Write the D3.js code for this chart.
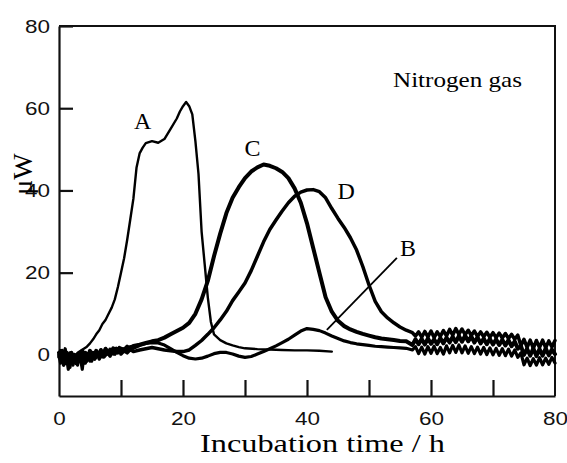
<!DOCTYPE html>
<html>
<head>
<meta charset="utf-8">
<script src="https://cdn.jsdelivr.net/npm/d3@7"></script>
<style>
  body { margin: 0; background: #fff; }
  svg { display: block; }
</style>
</head>
<body>
<svg id="chart"></svg>
<script>
// ---- data (time in h, heat flow in uW) ----

// curve A, thin line, ends at 44 h
let tA = [0, 0.5, 1, 1.5, 2, 2.5, 3, 3.5, 4, 4.5, 5, 5.5, 6, 6.5, 7, 7.5, 8, 8.5, 9, 9.5,
  10, 10.5, 11, 11.5, 12, 12.5, 13, 13.5, 14, 15, 16, 17, 18, 19, 19.5, 20, 20.5, 21, 21.5, 22,
  22.5, 23, 23.5, 24, 24.5, 25, 26, 27, 28, 29, 30, 32, 34, 36, 38, 40, 42, 44];
let vA = [0, -1.5, 0.5, -1, 0, -0.5, 0.5, 1, 1.5, 2, 2.8, 3.8, 5, 6, 7.5, 8.5, 10, 11.5, 13.5, 16.5,
  20, 23.5, 28, 33, 38, 45.5, 49, 50.4, 51.5, 52, 51.6, 52.5, 55, 57.5, 59.2, 60.5, 61.5, 60.5, 58.5, 52,
  44, 30, 22, 14, 8, 5, 3.6, 2.8, 2.3, 1.9, 1.6, 1.4, 1.3, 1.2, 1.1, 1.1, 1, 0.8];

// sampling times shared by B, C and D
let tS = [0, 0.25, 0.5, 0.75, 1, 1.25, 1.5, 1.75, 2, 2.25, 2.5, 2.75, 3, 3.25, 3.5, 3.75, 4, 4.25, 4.5, 4.75,
  5, 5.25, 5.5, 5.75, 6, 6.25, 6.5, 6.75, 7, 7.25, 7.5, 7.75, 8, 8.25, 8.5, 8.75, 9, 9.25, 9.5, 9.75, 10,
  10.5, 11, 11.5, 12,
  13, 14, 15, 16, 17, 18, 19, 20, 21, 22, 23, 24, 25, 26, 27, 28, 29, 30, 31, 32,
  33, 34, 35, 36, 37, 38, 39, 40, 41, 42, 43, 44, 45, 46, 47, 48, 49, 50, 51, 52, 53, 54, 55, 56,
  57, 57.5, 58, 58.5, 59, 59.5, 60, 60.5, 61, 61.5, 62, 62.5, 63, 63.5, 64, 64.5, 65, 65.5, 66, 66.5,
  67, 67.5, 68, 68.5, 69, 69.5, 70, 70.5, 71, 71.5, 72, 72.5, 73, 73.5, 74, 74.5, 75, 75.5, 76, 76.5,
  77, 77.5, 78, 78.5, 79, 79.5, 80];

// curve B, small bump near 41 h
let vB = [0, -2, 1, -1.5, 1.5, -1, -3.5, 0.5, -1, -2.5, 0, -1.5, -2.5, 0.5, -1, -3.5, -0.5, -2, -1, 0,
  -1.5, -0.5, 0.5, -1, 0, 0.5, -0.5, 0.8, -0.5, 1, 0, 1.2, 0.3, 0.8, 1.2, 0.2, 1.2, 0.5, 1.4, 0.6, 1.2,
  1.5, 1, 2, 1.6,
  2.3, 2.8, 3, 2.9, 2.4, 1.5, 0.6, -0.2, -0.8, -1, -0.8, -0.3, 0.3, 0.6, 0.6, 0.2, -0.3, -0.6, -0.4, 0.2,
  0.8, 1.5, 2.2, 3, 3.8, 4.8, 5.8, 6.4, 6.2, 5.9, 5.3, 4.6, 4, 3.4, 3, 2.7, 2.5, 2.3, 2.1, 2, 1.9, 1.8, 1.7, 1.6,
  1.2, 2, 0.3, 1.9, 0.2, 2, 0.4, 2.1, 0.3, 1.8, 0.2, 2.2, 0.5, 2.3, 0.6, 2.4, 0.5, 2.2, 0.4, 2,
  0.3, 1.9, 0.2, 1.8, 0.1, 1.7, 0, 1.6, -0.1, 1.5, -0.2, 1.4, -0.3, 1.2, -0.6, 0.5, -2.4, -0.8, -2.6, -0.9,
  -2.5, -0.7, -2.4, -0.8, -2.3, -0.6, -2];

// curve C, peak near 33 h
let vC = [0.5, -1, 1, -0.5, -2, 0.5, 0, -1.5, 0.5, -1, 0, -2, 0, -0.5, -1.5, 1, -0.5, 0.5, -1, 0,
  1, -0.5, 0.5, 0, 1, 0.3, -0.3, 1.2, 0.5, 0, 1.5, 0.8, 0.2, 1.3, 0.6, 1.6, 1, 1.5, 0.8, 1.7, 1.5,
  1.2, 2, 1.6, 2.2,
  2.5, 2.9, 3.3, 3.6, 4.2, 5, 5.8, 6.6, 7.8, 10, 13.5, 18, 24, 29.5, 34.5, 38.2, 40.8, 43, 44.6, 45.6,
  46.3, 46, 45.4, 44.5, 43, 40.5, 37, 32, 26, 20, 14, 10.5, 8.3, 7, 6.2, 5.6, 5.1, 4.7, 4.3, 4, 3.8, 3.6, 3.4, 3.3,
  2.4, 3.8, 2.6, 3.9, 2.5, 4, 2.7, 3.8, 2.6, 4.1, 2.8, 4.2, 3, 4.4, 3.1, 4.6, 3.2, 4.7, 3.3, 4.5,
  3, 4.3, 2.8, 4, 2.6, 3.9, 2.5, 3.8, 2.4, 3.7, 2.3, 3.6, 2.1, 3.3, 1.5, 2.2, 0, 1.5, -0.2, 1.6,
  -0.3, 1.4, -0.2, 1.6, -0.1, 1.3, 0.2];

// curve D, peak near 41 h
let vD = [-0.5, 1, -1, -2.5, 0.5, -1.5, -1, -3, 0, -2, -1.5, -0.5, -2, -1, 0, -2.5, -1, 0.5, -1.5, -1,
  0, -1.5, 0.5, -1, -0.5, 0.5, -1, 0, 0.5, -0.5, 0, 1, 0.2, -0.3, 1, 0.4, 0.2, 1, 0.5, 1.3, 0.2,
  1, 0.5, 1.3, 0.8,
  1.2, 1.5, 1.8, 1.5, 1.2, 1, 0.8, 0.8, 1.2, 2.3, 3.5, 5, 6.6, 8.5, 10.6, 13.2, 15.3, 17.5, 20.5, 24,
  27.5, 30.5, 32.8, 35, 37, 38.6, 39.6, 40.1, 40.2, 39.7, 38.2, 35.6, 33.2, 31, 28.5, 25.5, 21.5, 17, 13, 10.5, 9, 7.8, 6.8, 6,
  5.4, 4.6, 5.6, 4.3, 5.7, 4.4, 5.8, 4.2, 5.6, 4.5, 5.9, 4.6, 6.2, 4.8, 6.4, 5, 6.3, 4.9, 6, 4.7,
  5.8, 4.5, 5.6, 4.4, 5.5, 4.3, 5.4, 4.2, 5.3, 4.1, 5.2, 4, 5, 3.8, 4.8, 2.2, 3.8, 1.8, 3.6, 1.6,
  3.5, 1.8, 3.6, 1.7, 3.4, 1.9, 3.5];

// tick values
let yTicks = [0, 20, 40, 60, 80];
let xMinorTicks = [10, 20, 30, 40, 50, 60, 70];
let xLabels = [0, 20, 40, 60, 80];

// curve letters placed in data units, plus the leader line for B
let letterNames = ["A", "B", "C", "D"];
let letterT = [13.5, 56.3, 31.2, 46.3];
let letterV = [55, 24, 48.5, 38];
let leaderT = [54.5, 43.2];
let leaderV = [23.6, 6.1];

// ---- layout ----
let width = 567,
  height = 463,
  plotLeft = 59,
  plotRight = 555,
  plotTop = 26,
  plotBottom = 396;

let serif = "'Liberation Serif', 'Times New Roman', serif";
let sans = "'Liberation Sans', Arial, sans-serif";

let xScale = d3.scaleLinear().domain([0, 80]).range([plotLeft, plotRight]);
let yScale = d3.scaleLinear().domain([-10, 80]).range([plotBottom, plotTop]);

let svg = d3.select("#chart")
  .attr("width", width)
  .attr("height", height)
  .style("background", "#fff");

// frame top + right
svg.append("path")
  .attr("d", `M${plotLeft},${plotTop}H${plotRight}V${plotBottom}`)
  .attr("fill", "none")
  .attr("stroke", "#111")
  .attr("stroke-width", 2);

// y axis, ticks point inward
let yAxis = svg.append("g")
  .attr("transform", `translate(${plotLeft},0)`)
  .call(d3.axisLeft(yScale).tickValues(yTicks).tickSize(-14).tickSizeOuter(0).tickPadding(9));

// x axis ticks only (10..70)
let xAxis = svg.append("g")
  .attr("transform", `translate(0,${plotBottom})`)
  .call(d3.axisBottom(xScale).tickValues(xMinorTicks).tickSize(-16).tickSizeOuter(0).tickFormat(""));

// x labels only
let xLab = svg.append("g")
  .attr("transform", `translate(0,${plotBottom})`)
  .call(d3.axisBottom(xScale).tickValues(xLabels).tickSize(0).tickPadding(16));
xLab.select(".domain").remove();

[yAxis, xAxis].forEach(g => {
  g.select(".domain").attr("stroke", "#111").attr("stroke-width", 2.2);
  g.selectAll(".tick line").attr("stroke", "#111").attr("stroke-width", 2.2);
});

[yAxis, xLab].forEach(g => {
  g.attr("font-family", sans).attr("font-size", 19);
  g.selectAll(".tick text")
    .attr("fill", "#111")
    .attr("textLength", d => String(d).length * 12.5)
    .attr("lengthAdjust", "spacingAndGlyphs");
});

// ---- curves ----
let line = d3.line()
  .x(d => xScale(d[0]))
  .y(d => yScale(d[1]));

let series = [
  { t: tA, v: vA, w: 2.4 },
  { t: tS, v: vB, w: 3.2 },
  { t: tS, v: vC, w: 4 },
  { t: tS, v: vD, w: 3.5 }
];

series.forEach(s => {
  svg.append("path")
    .datum(s.t.map((t, i) => [t, s.v[i]]))
    .attr("d", line)
    .attr("fill", "none")
    .attr("stroke", "#000")
    .attr("stroke-width", s.w)
    .attr("stroke-linejoin", "round")
    .attr("stroke-linecap", "round");
});

// leader line to B
svg.append("line")
  .attr("x1", xScale(leaderT[0]))
  .attr("y1", yScale(leaderV[0]))
  .attr("x2", xScale(leaderT[1]))
  .attr("y2", yScale(leaderV[1]))
  .attr("stroke", "#000")
  .attr("stroke-width", 1.8);

// letters
svg.selectAll(".letter")
  .data(letterNames)
  .enter()
  .append("text")
  .attr("class", "letter")
  .attr("x", (d, i) => xScale(letterT[i]))
  .attr("y", (d, i) => yScale(letterV[i]))
  .attr("text-anchor", "middle")
  .attr("font-family", serif)
  .attr("font-size", 24)
  .text(d => d);

// texts
svg.append("text")
  .attr("x", 393)
  .attr("y", 87)
  .attr("font-family", serif)
  .attr("font-size", 22)
  .attr("textLength", 129)
  .attr("lengthAdjust", "spacingAndGlyphs")
  .text("Nitrogen gas");

svg.append("text")
  .attr("x", 200)
  .attr("y", 452)
  .attr("font-family", serif)
  .attr("font-size", 26)
  .attr("textLength", 245)
  .attr("lengthAdjust", "spacingAndGlyphs")
  .text("Incubation time / h");

svg.append("text")
  .attr("transform", "translate(32,174) rotate(-90)")
  .attr("text-anchor", "middle")
  .attr("font-family", serif)
  .attr("font-size", 28)
  .text("μW");
</script>
</body>
</html>
